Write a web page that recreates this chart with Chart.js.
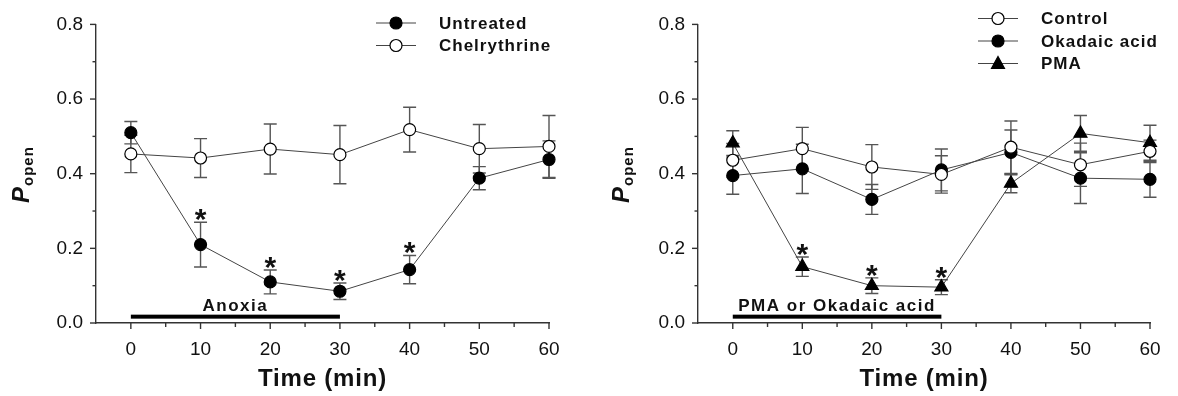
<!DOCTYPE html>
<html>
<head>
<meta charset="utf-8">
<script src="https://cdn.jsdelivr.net/npm/chart.js@4"></script>
<style>
  html, body { margin: 0; padding: 0; background: #fff; }
  #wrap { position: relative; width: 1178px; height: 396px; }
  .panel { position: absolute; top: 0; height: 396px; }
</style>
</head>
<body>
<div id="wrap">
  <div class="panel" style="left:0;width:580px"><canvas id="left"></canvas></div>
  <div class="panel" style="left:600px;width:578px"><canvas id="right"></canvas></div>
</div>
<script>
// time points (min)
var times = [0, 10, 20, 30, 40, 50, 60];

// left panel: anoxia
var untreated = [0.51, 0.21, 0.11, 0.085, 0.143, 0.388, 0.438];
var untreatedErr = [0.03, 0.06, 0.032, 0.022, 0.038, 0.031, 0.05];
var untreatedStar = [0, 1, 1, 1, 1, 0, 0];
var chelerythrine = [0.453, 0.442, 0.466, 0.451, 0.518, 0.467, 0.473];
var chelerythrineErr = [0.05, 0.052, 0.067, 0.078, 0.06, 0.065, 0.083];

// right panel: PMA / okadaic acid
var control = [0.436, 0.467, 0.418, 0.398, 0.471, 0.424, 0.46];
var controlErr = [0.045, 0.057, 0.06, 0.05, 0.07, 0.058, 0.03];
var okadaic = [0.395, 0.413, 0.331, 0.41, 0.457, 0.388, 0.385];
var okadaicErr = [0.05, 0.066, 0.04, 0.056, 0.06, 0.068, 0.048];
var pma = [0.482, 0.151, 0.1, 0.096, 0.374, 0.508, 0.483];
var pmaErr = [0.033, 0.026, 0.021, 0.02, 0.025, 0.048, 0.047];
var pmaStar = [0, 1, 1, 1, 0, 0, 0];

// treatment period bars
var anoxiaPeriod = [0, 30];
var drugPeriod = [0, 30];

var FONT = '"Liberation Sans", Arial, sans-serif';
var INK = '#111';
var LINE = '#444';

function pts(ys) {
  return times.map(function (t, i) { return { x: t, y: ys[i] }; });
}

function series(label, ys, err, style, filled, order, star) {
  return {
    label: label,
    data: pts(ys),
    err: err,
    star: star || null,
    order: order,
    borderColor: LINE,
    borderWidth: 1,
    pointStyle: style,
    pointRadius: style === 'triangle' ? 7.5 : 6,
    pointBorderWidth: 1.2,
    pointBorderColor: '#000',
    pointBackgroundColor: filled ? '#000' : '#fff',
    pointHoverRadius: 6,
    clip: false,
    tension: 0
  };
}

var panelPlugin = {
  id: 'panel',
  beforeDatasetsDraw: function (chart) {
    var ctx = chart.ctx, xs = chart.scales.x, ys = chart.scales.y;
    ctx.save();
    ctx.strokeStyle = '#555';
    ctx.lineWidth = 1.4;
    chart.data.datasets.forEach(function (ds) {
      ds.data.forEach(function (p, i) {
        var e = ds.err[i];
        var x = xs.getPixelForValue(p.x);
        var top = ys.getPixelForValue(p.y + e);
        var bot = ys.getPixelForValue(p.y - e);
        ctx.beginPath();
        ctx.moveTo(x, top); ctx.lineTo(x, bot);
        ctx.moveTo(x - 6.5, top); ctx.lineTo(x + 6.5, top);
        ctx.moveTo(x - 6.5, bot); ctx.lineTo(x + 6.5, bot);
        ctx.stroke();
      });
    });
    ctx.restore();
  },
  afterDraw: function (chart) {
    var ctx = chart.ctx, xs = chart.scales.x, ys = chart.scales.y;
    var opt = chart.options.plugins.panel;
    var area = chart.chartArea;
    ctx.save();

    // tick marks
    ctx.strokeStyle = '#333';
    ctx.lineWidth = 1.4;
    ys.ticks.forEach(function (t) {
      var y = ys.getPixelForValue(t.value);
      var major = Math.round(t.value * 10) % 2 === 0;
      ctx.beginPath();
      ctx.moveTo(area.left, y); ctx.lineTo(area.left - (major ? 6 : 3.5), y);
      ctx.stroke();
    });
    xs.ticks.forEach(function (t) {
      if (t.value < 0) return;
      var x = xs.getPixelForValue(t.value);
      var major = t.value % 10 === 0;
      ctx.beginPath();
      ctx.moveTo(x, area.bottom); ctx.lineTo(x, area.bottom + (major ? 6 : 4));
      ctx.stroke();
    });

    // treatment bar + label
    var bx0 = xs.getPixelForValue(opt.period[0]);
    var bx1 = xs.getPixelForValue(opt.period[1]);
    var by = ys.getPixelForValue(0.017);
    ctx.fillStyle = '#000';
    ctx.fillRect(bx0, by - 2, bx1 - bx0, 4);
    ctx.font = 'bold 17px ' + FONT;
    ctx.letterSpacing = '1.5px';
    ctx.textAlign = 'center';
    ctx.textBaseline = 'alphabetic';
    ctx.fillStyle = INK;
    ctx.fillText(opt.periodLabel, (bx0 + bx1) / 2, by - 6);

    // significance asterisks
    ctx.font = 'bold 30px ' + FONT;
    ctx.letterSpacing = '0px';
    chart.data.datasets.forEach(function (ds) {
      if (!ds.star) return;
      ds.data.forEach(function (p, i) {
        if (!ds.star[i]) return;
        var x = xs.getPixelForValue(p.x);
        var top = ys.getPixelForValue(p.y + ds.err[i]);
        ctx.fillText('*', x, top + 7);
      });
    });

    // legend
    opt.legend.forEach(function (item, i) {
      var y = opt.legendY + i * 22.5;
      var lx = opt.legendX;
      ctx.strokeStyle = LINE;
      ctx.lineWidth = 1.2;
      ctx.beginPath();
      ctx.moveTo(lx, y); ctx.lineTo(lx + 40, y);
      ctx.stroke();
      var ds = chart.data.datasets[item];
      ctx.fillStyle = ds.pointBackgroundColor;
      ctx.strokeStyle = '#000';
      ctx.beginPath();
      if (ds.pointStyle === 'triangle') {
        ctx.moveTo(lx + 20, y - 7);
        ctx.lineTo(lx + 26.5, y + 5);
        ctx.lineTo(lx + 13.5, y + 5);
        ctx.closePath();
      } else {
        ctx.arc(lx + 20, y, 6, 0, Math.PI * 2);
      }
      ctx.fill();
      ctx.stroke();
      ctx.fillStyle = INK;
      ctx.font = 'bold 17px ' + FONT;
      ctx.letterSpacing = '1px';
      ctx.textAlign = 'left';
      ctx.textBaseline = 'middle';
      ctx.fillText(ds.label, lx + 63, y + 1);
    });

    // x title
    ctx.font = 'bold 24px ' + FONT;
    ctx.letterSpacing = '0.8px';
    ctx.textAlign = 'center';
    ctx.textBaseline = 'alphabetic';
    ctx.fillStyle = INK;
    ctx.fillText('Time (min)', (area.left + area.right) / 2, 386);

    // y title: P with subscript "open"
    ctx.translate(29, 203);
    ctx.rotate(-Math.PI / 2);
    ctx.textAlign = 'left';
    ctx.letterSpacing = '0px';
    ctx.font = 'italic bold 24px ' + FONT;
    ctx.fillText('P', 0, 0);
    var pw = ctx.measureText('P').width;
    ctx.font = 'bold 15px ' + FONT;
    ctx.letterSpacing = '1px';
    ctx.fillText('open', pw + 1, 4);
    ctx.restore();
  }
};

function makeChart(id, datasets, yWidth, padRight, extra) {
  return new Chart(document.getElementById(id), {
    type: 'line',
    data: { datasets: datasets },
    plugins: [panelPlugin],
    options: {
      responsive: true,
      maintainAspectRatio: false,
      animation: false,
      layout: { padding: { top: 19, right: padRight, left: 0, bottom: 0 } },
      plugins: {
        legend: { display: false },
        tooltip: { enabled: false },
        panel: extra
      },
      scales: {
        x: {
          type: 'linear',
          min: -5, max: 60,
          grid: { display: false, drawTicks: false },
          border: { display: true, color: '#333', width: 1.4 },
          ticks: {
            stepSize: 5, autoSkip: false, maxRotation: 0, padding: 15,
            color: INK, font: { family: FONT, size: 19 },
            callback: function (v) { return (v >= 0 && v % 10 === 0) ? String(v) : ''; }
          },
          afterFit: function (s) { s.height = 73; }
        },
        y: {
          min: 0, max: 0.8,
          grid: { display: false, drawTicks: false },
          border: { display: true, color: '#333', width: 1.4 },
          ticks: {
            stepSize: 0.1, autoSkip: false, padding: 13,
            color: INK, font: { family: FONT, size: 19 },
            callback: function (v) {
              var k = Math.round(v * 10);
              return k % 2 === 0 ? (k / 10).toFixed(1) : '';
            }
          },
          afterFit: function (s) { s.width = yWidth; }
        }
      }
    }
  });
}

makeChart('left', [
  series('Untreated', untreated, untreatedErr, 'circle', true, 1, untreatedStar),
  series('Chelrythrine', chelerythrine, chelerythrineErr, 'circle', false, 0)
], 96, 31, {
  period: anoxiaPeriod, periodLabel: 'Anoxia',
  legend: [0, 1], legendX: 376, legendY: 23
});

makeChart('right', [
  series('Control', control, controlErr, 'circle', false, 0),
  series('Okadaic acid', okadaic, okadaicErr, 'circle', true, 1),
  series('PMA', pma, pmaErr, 'triangle', true, 2, pmaStar)
], 98, 28, {
  period: drugPeriod, periodLabel: 'PMA or Okadaic acid',
  legend: [0, 1, 2], legendX: 378, legendY: 18.5
});
</script>
</body>
</html>
